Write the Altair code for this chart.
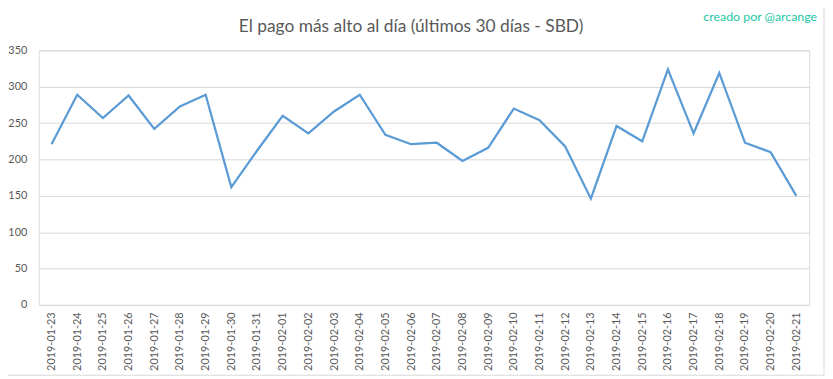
import altair as alt
import pandas as pd

dates = [
    "2019-01-23", "2019-01-24", "2019-01-25", "2019-01-26", "2019-01-27",
    "2019-01-28", "2019-01-29", "2019-01-30", "2019-01-31", "2019-02-01",
    "2019-02-02", "2019-02-03", "2019-02-04", "2019-02-05", "2019-02-06",
    "2019-02-07", "2019-02-08", "2019-02-09", "2019-02-10", "2019-02-11",
    "2019-02-12", "2019-02-13", "2019-02-14", "2019-02-15", "2019-02-16",
    "2019-02-17", "2019-02-18", "2019-02-19", "2019-02-20", "2019-02-21",
]
values = [
    221, 289, 257, 288, 242, 273, 289, 162, 212, 260,
    236, 266, 289, 234, 221, 223, 198, 216, 270, 254,
    218, 146, 246, 225, 324, 236, 319, 223, 210, 150,
]
y_ticks = [0, 50, 100, 150, 200, 250, 300, 350]

title_text = "El pago más alto al día (últimos 30 días - SBD)"
credit_text = "creado por @arcange"

df = pd.DataFrame({"fecha": dates, "valor": values})

FONT = "Lato"
GRAY = "#595959"

W, H = 778, 257

line = alt.Chart(df).mark_line(color="#5b9bd5", strokeWidth=2.25).encode(
    x=alt.X(
        "fecha:O",
        sort=dates,
        scale=alt.Scale(type="point", padding=0.5),
        axis=alt.Axis(
            title=None,
            labelAngle=-90,
            labelAlign="right",
            labelBaseline="middle",
            labelFontSize=11,
            labelColor=GRAY,
            labelFont=FONT,
            labelPadding=7,
            ticks=False,
            domain=False,
            grid=False,
        ),
    ),
    y=alt.Y(
        "valor:Q",
        scale=alt.Scale(domain=[0, 350], nice=False),
        axis=alt.Axis(
            title=None,
            values=y_ticks,
            labelFontSize=11,
            labelColor=GRAY,
            labelFont=FONT,
            labelPadding=12,
            ticks=False,
            domain=False,
            grid=True,
            gridColor="#d9d9d9",
            gridWidth=1,
        ),
    ),
)

title = alt.Chart(pd.DataFrame({"t": [title_text]})).mark_text(
    align="center", baseline="middle", font=FONT, fontSize=17.5, color=GRAY
).encode(x=alt.value(376), y=alt.value(-24), text="t:N")

credit = alt.Chart(pd.DataFrame({"t": [credit_text]})).mark_text(
    align="right", baseline="middle", font=FONT, fontSize=12.5, color="#22c7a3"
).encode(x=alt.value(786), y=alt.value(-34), text="t:N")

border_r = alt.Chart(pd.DataFrame({"a": [0]})).mark_rule(color="#d9d9d9").encode(
    x=alt.value(793), y=alt.value(-49), y2=alt.value(328)
)
border_b = alt.Chart(pd.DataFrame({"a": [0]})).mark_rule(color="#d9d9d9").encode(
    x=alt.value(-39), x2=alt.value(793), y=alt.value(328)
)

chart = (
    alt.layer(line, title, credit, border_r, border_b)
    .properties(
        width=W,
        height=H,
        padding={"left": 31, "top": 41, "right": 16, "bottom": 73},
        autosize=alt.AutoSizeParams(type="none"),
    )
    .configure_view(stroke=None)
    .configure(background="white")
)

chart.save("out.html", embed_options={"renderer": "svg", "actions": False})
